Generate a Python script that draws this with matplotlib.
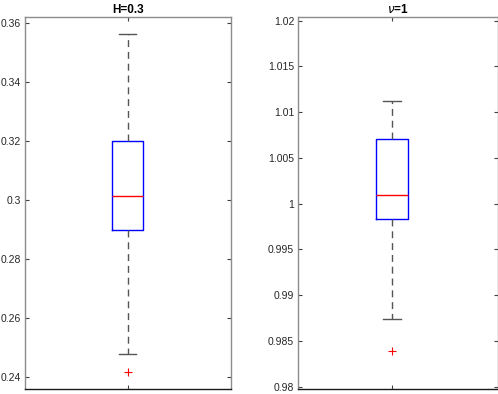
import matplotlib
matplotlib.use("Agg")
import matplotlib.pyplot as plt
from matplotlib.ticker import FuncFormatter

plt.rcParams['font.family'] = ['Liberation Sans', 'DejaVu Sans']

# box statistics (whisker low, q1, median, q3, whisker high, outliers)
h_stats = [0.2479, 0.2898, 0.3014, 0.3200, 0.3563]
h_fliers = [0.2416]
nu_stats = [0.98743, 0.9983, 1.00098, 1.00704, 1.01126]
nu_fliers = [0.98387]

h_ticks = [0.24, 0.26, 0.28, 0.30, 0.32, 0.34, 0.36]
nu_ticks = [0.98, 0.985, 0.99, 0.995, 1.0, 1.005, 1.01, 1.015, 1.02]


def make_stats(vals, fliers):
    lo, q1, med, q3, hi = vals
    return [dict(whislo=lo, q1=q1, med=med, q3=q3, whishi=hi, fliers=fliers)]


def draw_box(ax, vals, fliers, width, capw):
    ax.bxp(make_stats(vals, fliers), positions=[1], widths=width,
           capwidths=capw, showfliers=True,
           boxprops=dict(color='#0000ff', linewidth=1.0),
           medianprops=dict(color='#ff0000', linewidth=1.0),
           whiskerprops=dict(color='#555555', linewidth=1.0,
                             linestyle=(0, (5, 3.5))),
           capprops=dict(color='#555555', linewidth=1.0),
           flierprops=dict(marker='+', markeredgecolor='#ff0000',
                           markersize=6, linestyle='none', markeredgewidth=0.8))


def style_axes(ax, ticks):
    for side in ['left', 'top', 'right']:
        ax.spines[side].set_color('#8c8c8c')
        ax.spines[side].set_linewidth(1.0)
    ax.spines['bottom'].set_color('#1a1a1a')
    ax.spines['bottom'].set_linewidth(1.0)
    ax.set_yticks(ticks)
    ax.yaxis.set_major_formatter(FuncFormatter(lambda v, p: '%g' % round(v, 6)))
    ax.set_xticks([1])
    ax.set_xticklabels([''])
    ax.tick_params(axis='both', direction='in', length=3, width=0.8,
                   color='#404040', labelsize=7.5, labelcolor='#262626', pad=3,
                   left=True, right=True, top=True, bottom=True)


fig = plt.figure(figsize=(4.98, 3.94), dpi=100)

ax1 = fig.add_axes([25 / 498, 5.3 / 394, 205.7 / 498, 372 / 394])
draw_box(ax1, h_stats, h_fliers, 0.151, 0.083)
ax1.set_xlim(0.5, 1.5)
ax1.set_ylim(0.2361, 0.3620)
style_axes(ax1, h_ticks)
ax1.set_title('H=0.3', fontsize=8.5, fontweight='bold', pad=3)

ax2 = fig.add_axes([298.3 / 498, 5.3 / 394, 200 / 498, 372 / 394])
draw_box(ax2, nu_stats, nu_fliers, 0.151, 0.081)
ax2.set_xlim(0.566, 1.492)
ax2.set_ylim(0.97978, 1.02044)
style_axes(ax2, nu_ticks)
ax2.set_title(r'$\nu$=1', fontsize=8.5, fontweight='bold', pad=3)

fig.savefig('out.png', dpi=100)
